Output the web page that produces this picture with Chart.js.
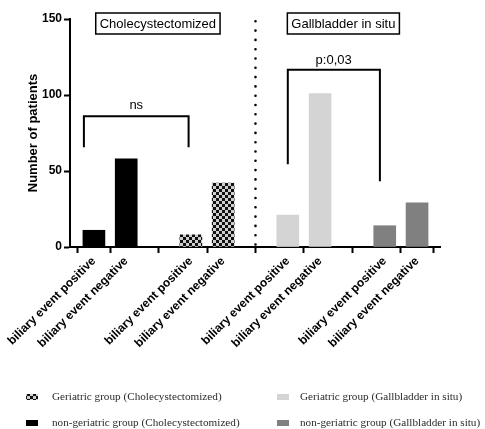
<!DOCTYPE html>
<html><head><meta charset="utf-8">
<script src="https://cdn.jsdelivr.net/npm/chart.js@4.4.0/dist/chart.umd.min.js"></script>
<style>html,body{margin:0;padding:0;background:#fff;}</style>
</head><body>
<canvas id="c" width="485" height="429"></canvas>
<script>
// ---- data ----
const categoryLabels = ['biliary event positive', 'biliary event negative'];
const slotsNonGerChol = [0, 1];
const slotsGerChol = [3, 4];
const slotsGerGB = [6, 7];
const slotsNonGerGB = [9, 10];
const nonGerChol = [11, 58];
const gerChol = [8, 42];
const gerGB = [21, 101];
const nonGerGB = [14, 29];
const yTicks = [0, 50, 100, 150];
const groupTitles = ['Cholecystectomized', 'Gallbladder in situ'];
const sigLabels = ['ns', 'p:0,03'];
const seriesNames = [
  'Geriatric group (Cholecystectomized)',
  'Geriatric group (Gallbladder in situ)',
  'non-geriatric group (Cholecystectomized)',
  'non-geriatric group (Gallbladder in situ)'
];

const allSlots = [].concat(slotsNonGerChol, slotsGerChol, slotsGerGB, slotsNonGerGB).sort((a,b)=>a-b);
const toPts = (slots, vals) => slots.map((s, i) => ({x: s, y: vals[i]}));

const canvas = document.getElementById('c');
const ctx0 = canvas.getContext('2d');
function checker() {
  const p = document.createElement('canvas');
  p.width = 6; p.height = 6;
  const g = p.getContext('2d');
  g.fillStyle = '#cfcfcf'; g.fillRect(0, 0, 6, 6);
  g.fillStyle = '#111'; g.fillRect(0, 0, 3, 3); g.fillRect(3, 3, 3, 3);
  return ctx0.createPattern(p, 'repeat');
}
const checkerFill = checker();

const SANS = "'Liberation Sans', Arial, sans-serif";

const annot = {
  id: 'annot',
  afterDraw(chart) {
    const {ctx, scales: {x, y}, chartArea} = chart;
    ctx.save();
    // dotted separator
    ctx.strokeStyle = '#000';
    ctx.lineWidth = 2.6;
    ctx.lineCap = 'round';
    ctx.setLineDash([0, 9.3]);
    ctx.beginPath();
    const sx = x.getPixelForValue(5);
    ctx.moveTo(sx, y.getPixelForValue(148.5));
    ctx.lineTo(sx, y.getPixelForValue(0));
    ctx.stroke();
    ctx.setLineDash([]);
    ctx.lineCap = 'butt';

    // brackets
    ctx.lineWidth = 2;
    function bracket(x1, x2, top, l1, l2) {
      ctx.beginPath();
      ctx.moveTo(x.getPixelForValue(x1), y.getPixelForValue(l1));
      ctx.lineTo(x.getPixelForValue(x1), y.getPixelForValue(top));
      ctx.lineTo(x.getPixelForValue(x2), y.getPixelForValue(top));
      ctx.lineTo(x.getPixelForValue(x2), y.getPixelForValue(l2));
      ctx.stroke();
    }
    bracket(-0.31, 2.93, 86, 65.7, 65.7);
    bracket(6.0, 8.85, 116.6, 54.4, 43.2);

    ctx.fillStyle = '#000';
    ctx.font = '13px ' + SANS;
    ctx.textAlign = 'center';
    ctx.textBaseline = 'middle';
    ctx.fillText(sigLabels[0], x.getPixelForValue(1.31), y.getPixelForValue(93));
    ctx.fillText(sigLabels[1], x.getPixelForValue(7.42), y.getPixelForValue(123));

    // group title boxes
    ctx.lineWidth = 1.5;
    const boxTop = chartArea.top - 6, boxH = 21;
    [[groupTitles[0], 1.98], [groupTitles[1], 7.72]].forEach(([t, c]) => {
      const cx = x.getPixelForValue(c);
      const w = ctx.measureText(t).width + 8;
      ctx.strokeRect(cx - w / 2, boxTop, w, boxH);
      ctx.fillText(t, cx, boxTop + boxH / 2 + 0.5);
    });

    // legend (2 columns)
    ctx.font = "11.2px 'Liberation Serif', 'Times New Roman', serif";
    ctx.textAlign = 'left';
    const colX = [26, 277], txtX = [52, 300], rowY = [397, 423];
    chart.data.datasets.forEach((ds, i) => {
      const c = i % 2, cy = rowY[Math.floor(i / 2)];
      ctx.fillStyle = ds.backgroundColor;
      ctx.fillRect(colX[c], cy - 3, 12, 6);
      ctx.fillStyle = '#2a2a2a';
      ctx.fillText(ds.label, txtX[c], cy);
    });
    ctx.restore();
  }
};

function labelFor(v) {
  const idx = allSlots.indexOf(v);
  return idx < 0 ? '' : categoryLabels[idx % 2];
}

new Chart(canvas, {
  type: 'bar',
  data: {
    datasets: [
      {label: seriesNames[0], data: toPts(slotsGerChol, gerChol), backgroundColor: checkerFill},
      {label: seriesNames[1], data: toPts(slotsGerGB, gerGB), backgroundColor: '#d4d4d4'},
      {label: seriesNames[2], data: toPts(slotsNonGerChol, nonGerChol), backgroundColor: '#000000'},
      {label: seriesNames[3], data: toPts(slotsNonGerGB, nonGerGB), backgroundColor: '#808080'}
    ]
  },
  options: {
    responsive: false,
    animation: false,
    datasets: {bar: {grouped: false, barThickness: 22, borderWidth: 0}},
    layout: {padding: {left: 24, right: 45, top: 19, bottom: 0}},
    plugins: {legend: {display: false}, tooltip: {enabled: false}},
    scales: {
      x: {
        type: 'linear', min: -0.74, max: 10.71, offset: false,
        afterBuildTicks: s => { s.ticks = allSlots.map(v => ({value: v})); },
        afterFit: s => { s.height = 182; },
        ticks: {
          autoSkip: false, maxRotation: 45, minRotation: 45, padding: 1,
          color: '#000', font: {family: SANS, size: 12, weight: 'bold'},
          callback: v => labelFor(v)
        },
        grid: {drawOnChartArea: false, tickLength: 6, tickWidth: 2, tickColor: '#000'},
        border: {color: '#000', width: 2}
      },
      y: {
        min: 0, max: 150,
        afterBuildTicks: s => { s.ticks = yTicks.map(v => ({value: v})); },
        afterFit: s => { s.width = 46; },
        ticks: {color: '#000', padding: 2, font: {family: SANS, size: 12, weight: 'bold'}},
        grid: {drawOnChartArea: false, tickLength: 6, tickWidth: 2, tickColor: '#000'},
        border: {color: '#000', width: 2},
        title: {display: true, text: 'Number of patients', color: '#000',
                font: {family: SANS, size: 13, weight: 'bold'}, padding: {top: 2, bottom: 0}}
      }
    }
  },
  plugins: [annot]
});
</script>
</body></html>
